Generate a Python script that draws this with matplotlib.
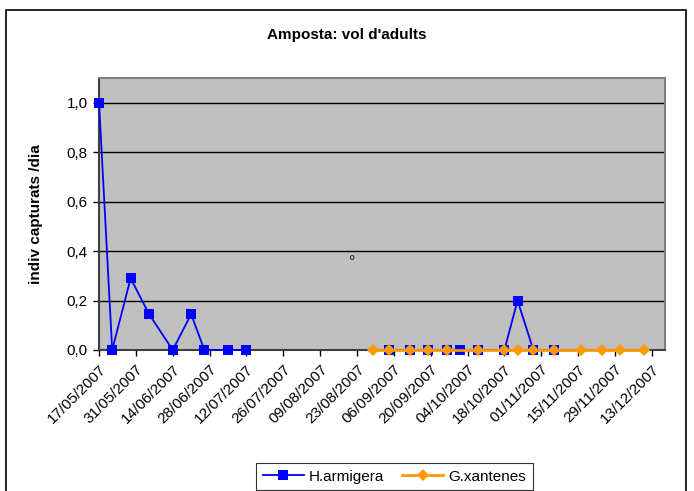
import datetime as dt
import numpy as np
import matplotlib
matplotlib.use("Agg")
from matplotlib import pyplot as plt
import matplotlib.dates as mdates
from matplotlib.patches import Rectangle
from matplotlib.ticker import FuncFormatter

plt.rcParams['font.family'] = ['Liberation Sans', 'DejaVu Sans']

# H.armigera (blank on 29/08 -> gap in the line)
harm_dates = ["17/05/2007", "22/05/2007", "29/05/2007", "05/06/2007", "14/06/2007",
              "21/06/2007", "26/06/2007", "05/07/2007", "12/07/2007", "29/08/2007",
              "04/09/2007", "12/09/2007", "19/09/2007", "26/09/2007", "01/10/2007",
              "08/10/2007", "18/10/2007", "23/10/2007", "29/10/2007", "06/11/2007"]
harm_values = [1.0, 0.0, 0.29, 0.145, 0.0,
               0.145, 0.0, 0.0, 0.0, None,
               0.0, 0.0, 0.0, 0.0, 0.0,
               0.0, 0.0, 0.2, 0.0, 0.0]

# G.xantenes
gxan_dates = ["29/08/2007", "04/09/2007", "12/09/2007", "19/09/2007", "26/09/2007",
              "08/10/2007", "18/10/2007", "23/10/2007", "29/10/2007", "06/11/2007",
              "16/11/2007", "24/11/2007", "01/12/2007", "10/12/2007"]
gxan_values = [0.0] * len(gxan_dates)

axis_start = "17/05/2007"
axis_end = "18/12/2007"


def to_date(s):
    return dt.datetime.strptime(s, "%d/%m/%Y")


fig = plt.figure(figsize=(6.94, 4.91), dpi=100)
ax = fig.add_axes([0.1427, 0.2872, 0.9582 - 0.1427, 0.8411 - 0.2872])
ax.set_facecolor("#C0C0C0")

x_h = [to_date(d) for d in harm_dates]
y_h = np.array(harm_values, dtype=float)
x_g = [to_date(d) for d in gxan_dates]
y_g = np.array(gxan_values, dtype=float)

ax.plot(x_h, y_h, color="#0000FF", linewidth=1.3, marker="s", markersize=6.5,
        markeredgewidth=0, label="H.armigera", clip_on=False, zorder=3)
ax.plot(x_g, y_g, color="#FF9900", linewidth=2.0, marker="D", markersize=6,
        markeredgewidth=0, label="G.xantenes", clip_on=False, zorder=4)

ax.set_xlim(to_date(axis_start), to_date(axis_end))
ax.set_ylim(0, 1.1)

ticks = [to_date(axis_start) + dt.timedelta(days=14 * k) for k in range(16)]
ax.set_xticks(ticks)
ax.xaxis.set_major_formatter(mdates.DateFormatter("%d/%m/%Y"))
plt.setp(ax.get_xticklabels(), rotation=45, ha="right", rotation_mode="anchor",
         fontsize=11)

ax.set_yticks(np.arange(0, 1.01, 0.2))
ax.yaxis.set_major_formatter(FuncFormatter(lambda v, p: f"{v:.1f}".replace(".", ",")))
ax.tick_params(axis="y", labelsize=11, length=4, width=1, pad=4)
ax.tick_params(axis="x", length=4, width=1, pad=5)

ax.grid(axis="y", color="black", linewidth=1)
ax.set_axisbelow(True)
for side in ["top", "right"]:
    ax.spines[side].set_color("#808080")
    ax.spines[side].set_linewidth(1.5)
for side in ["left", "bottom"]:
    ax.spines[side].set_color("#404040")
    ax.spines[side].set_linewidth(1.5)

ax.set_ylabel("indiv capturats /dia", fontsize=11, fontweight="bold", labelpad=17)
fig.text(0.4996, 0.928, "Amposta: vol d'adults", ha="center", va="center",
         fontsize=11, fontweight="bold")

# stray character in the plot area
ax.text(to_date(axis_start) + dt.timedelta(days=96), 0.36, "º", fontsize=9,
        ha="center", va="center")

leg = fig.legend(loc="upper center", bbox_to_anchor=(0.568, 0.0576), ncol=2,
                 fontsize=11, frameon=True, fancybox=False, edgecolor="black",
                 borderaxespad=0, handlelength=2.7, columnspacing=1.2,
                 handletextpad=0.3, borderpad=0.45)
leg.get_frame().set_linewidth(0.8)

fig.add_artist(Rectangle((6 / 694, -0.05), 680 / 694, 0.05 + (481 / 491),
                         transform=fig.transFigure, fill=False,
                         edgecolor="black", linewidth=1.2))

fig.savefig("out.png", dpi=100)
